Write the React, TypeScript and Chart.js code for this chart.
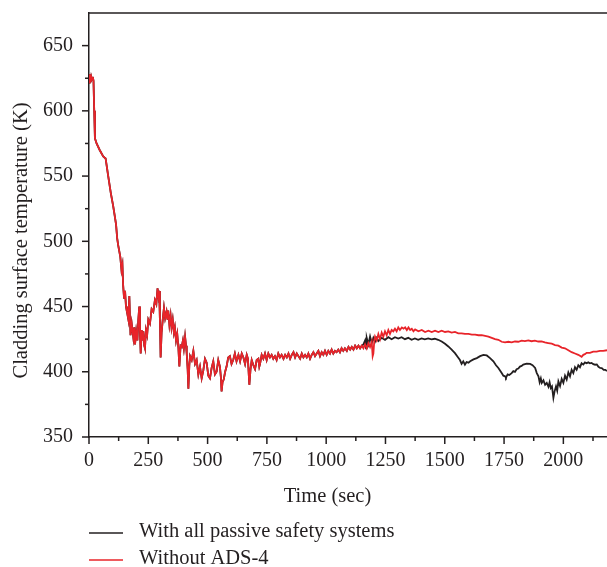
import React, { useEffect, useRef } from "react";
import { Chart, registerables } from "chart.js";

Chart.register(...registerables);

// ---------- data ----------
// Common part: both runs coincide until ~1150 s
const commonTime = [
  0, 2, 4, 6, 8, 10, 13, 16, 19, 22, 25, 32, 45, 60, 70, 81, 92, 102, 108, 114,
  119, 123, 127, 132, 137, 141, 144, 148, 152, 156, 160, 166, 170, 175, 180, 187,
  191, 194, 199, 204, 208, 212, 215, 218, 222, 226, 229, 233, 236, 240, 245, 250,
  257, 264, 271, 278, 284, 289, 293, 296, 299, 302, 306, 311, 316, 321, 327, 331,
  334, 339, 344, 348, 353, 358, 362, 367, 372, 377, 381, 386, 391, 396, 400, 405,
  409, 412, 416, 419, 423, 426, 433, 440, 447, 454, 461, 468, 475, 482, 489, 496,
  503, 510, 517, 524, 531, 538, 545, 552, 556, 559, 563, 568, 574, 580, 587, 594,
  601, 608, 615, 622, 630, 637, 644, 651, 658, 665, 670, 676, 681, 686, 693, 700,
  707, 714, 718, 721, 728, 735, 742, 749, 756, 763, 770, 777, 784, 791, 798, 805,
  812, 820, 827, 834, 841, 848, 855, 862, 869, 876, 883, 890, 897, 904, 911, 918,
  925, 932, 939, 946, 953, 960, 967, 974, 981, 988, 995, 1002, 1009, 1016, 1023,
  1030, 1037, 1044, 1051, 1058, 1065, 1072, 1079, 1087, 1094, 1101, 1108, 1115,
  1122, 1129, 1136, 1143, 1150,
];
const commonTemp = [
  624, 628, 621, 627, 622, 626, 624, 626, 623, 600, 579, 575, 570, 565, 563.5, 550, 537, 527, 520, 513,
  502, 497, 493, 488, 478, 482, 466, 456, 462, 450, 446, 440, 458, 428, 437, 426,
  434, 421, 431, 424, 440, 450, 430, 414, 432, 424, 431, 420, 418, 432, 428, 440,
  437, 448, 446, 455, 452, 464, 458, 462, 440, 411, 430, 440, 449, 441, 446, 440,
  447, 436, 443, 434, 440, 430, 434, 424, 429, 418, 404, 420, 419, 424, 418, 427,
  420, 414, 402, 387, 405, 412, 409, 416, 406, 409, 398, 404, 395, 401, 410, 407,
  397, 395, 403, 408, 398, 400, 409, 404, 396, 385, 392, 394, 400, 404, 411, 412,
  406, 409, 414, 408, 413, 408, 414, 411, 406, 413, 410, 390, 402, 409, 405, 402,
  409, 410, 404, 406, 413, 410, 414, 409, 414, 411, 413, 410, 412, 409, 414, 411,
  413, 410, 413, 411, 414, 410, 413, 415, 411, 414, 412, 410, 414, 411, 413, 411,
  414, 410, 413, 415, 412, 414, 416, 412, 415, 413, 416, 413, 416, 414, 417,
  414, 416, 415, 417, 415, 418, 416, 418, 416, 419, 417, 419, 417,
  420, 418, 420, 418, 420,
];

// "With all passive safety systems" after divergence
const passiveTime = [
  1157, 1164, 1168, 1171, 1178, 1185, 1192, 1199, 1206, 1213, 1220, 1234, 1248, 1262,
  1276, 1290, 1304, 1318, 1332, 1346, 1360, 1374, 1388, 1402, 1416, 1430, 1444, 1458,
  1472, 1487, 1501, 1515, 1529, 1543, 1554, 1564, 1571, 1578, 1585, 1592, 1600, 1607,
  1621, 1635, 1649, 1663, 1677, 1691, 1705, 1716, 1726, 1733, 1740, 1747, 1754, 1758,
  1765, 1772, 1782, 1789, 1796, 1803, 1810, 1817, 1824, 1831, 1845, 1860, 1870, 1881,
  1888, 1895, 1900, 1905, 1909, 1916, 1923, 1930, 1937, 1942, 1947, 1952, 1958, 1963,
  1969, 1974, 1979, 1986, 1993, 2000, 2007, 2014, 2021, 2028, 2035, 2042, 2049, 2056,
  2063, 2070, 2077, 2084, 2091, 2098, 2105, 2112, 2119, 2126, 2134, 2141, 2148, 2155,
  2162, 2170, 2177, 2184,
];
const passiveTemp = [
  421, 424, 418, 426, 421, 427, 422, 426, 423, 426, 423.5, 426, 424.5, 426.5,
  425, 426.5, 425.5, 426.5, 425, 426, 424.5, 425.5, 424.5, 425.5, 424.8, 425.5, 424.8, 425.3,
  424.5, 423.2, 421.5, 419.4, 417, 414.3, 411.5, 409, 406, 408, 405.5, 407.5, 407, 408,
  409.5, 410.5, 412, 413, 412.5, 410.5, 408, 405, 402.9, 401, 399, 397, 396.5, 395.5,
  398, 397.5, 399, 400.5, 400, 402, 402.5, 404, 404.5, 405.5, 406.3, 406, 405, 402.9,
  399, 396.5, 392, 395, 391.5, 393.5, 390, 391.4, 388.5, 392, 387.5, 388.8, 380, 385,
  388.8, 385.5, 392.6, 389, 394.5, 391.5, 397, 394, 399.5, 396.5, 401.5, 399, 403.5, 401.5,
  405, 403.5, 406.5, 405.5, 407.2, 406.5, 407.2, 406.5, 406.8, 405.8, 405.4, 405.6, 403.8, 402.9,
  402.8, 401.5, 401.5, 400.5,
];

// "Without ADS-4" after divergence
const noAdsTime = [
  1157, 1164, 1171, 1178, 1185, 1192, 1196, 1199, 1203, 1206, 1213, 1220, 1227, 1234,
  1241, 1248, 1255, 1262, 1269, 1276, 1283, 1290, 1297, 1304, 1311, 1319, 1326, 1333,
  1340, 1347, 1354, 1361, 1368, 1375, 1389, 1403, 1417, 1431, 1445, 1459, 1473, 1487,
  1501, 1515, 1529, 1543, 1557, 1571, 1585, 1600, 1614, 1628, 1642, 1656, 1670, 1684,
  1698, 1712, 1726, 1740, 1754, 1768, 1782, 1796, 1810, 1824, 1838, 1852, 1866, 1880,
  1894, 1908, 1922, 1936, 1951, 1965, 1979, 1993, 2007, 2021, 2035, 2049, 2063, 2077,
  2084, 2091, 2098, 2112, 2126, 2140, 2154, 2168, 2184,
];
const noAdsTemp = [
  418, 421, 418, 422, 419, 423, 412, 414, 424, 427, 424, 429, 425, 430,
  427, 431, 428, 432, 429, 432, 431, 433, 431, 434, 432, 434, 433, 434,
  432, 434, 432, 433, 431, 432.5, 431, 432, 430.5, 431.5, 430.5, 431.5, 430.5, 431.5,
  430.5, 431, 430, 430.5, 429.5, 429.5, 429, 429, 428.5, 428.5, 428, 428, 427.5, 427,
  426, 425, 424.5, 423, 422.5, 423, 422.5, 423.2, 423, 423.8, 423.5, 424, 423.4, 423.8,
  423.2, 423.3, 422.5, 422, 421.5, 420.5, 420, 418.5, 418, 416.5, 415, 414, 413, 411.5,
  413, 413.5, 414.5, 414.5, 415.5, 415.5, 416, 416, 416.5,
];

const xTickLabels = [0, 250, 500, 750, 1000, 1250, 1500, 1750, 2000];
const yTickLabels = [350, 400, 450, 500, 550, 600, 650];

const seriesNames = ["With all passive safety systems", "Without ADS-4"];
const xTitle = "Time (sec)";
const yTitle = "Cladding surface temperature (K)";

// ---------- styles ----------
const BLACK = "#231f20";
const RED = "#e8242a";
const FONT = "'Liberation Serif', 'Times New Roman', serif";

function toPoints(t: number[], v: number[]) {
  return t.map((x, i) => ({ x, y: v[i] }));
}

const decorPlugin = {
  id: "decor",
  afterDraw(chart: any) {
    const { ctx, chartArea, scales } = chart;
    const xs = scales.x;
    const ys = scales.y;
    ctx.save();
    ctx.strokeStyle = BLACK;
    ctx.lineWidth = 1.5;
    // top frame line
    ctx.beginPath();
    ctx.moveTo(chartArea.left - 0.75, chartArea.top);
    ctx.lineTo(chartArea.right, chartArea.top);
    ctx.stroke();
    // x ticks (major 250, minor 125)
    for (let v = 0; v <= xs.max; v += 125) {
      const px = xs.getPixelForValue(v);
      const len = v % 250 === 0 ? 7 : 4;
      ctx.beginPath();
      ctx.moveTo(px, chartArea.bottom);
      ctx.lineTo(px, chartArea.bottom + len);
      ctx.stroke();
    }
    // y ticks (major 50, minor 25)
    for (let v = ys.min; v < ys.max; v += 25) {
      const py = ys.getPixelForValue(v);
      const len = v % 50 === 0 ? 7 : 4;
      ctx.beginPath();
      ctx.moveTo(chartArea.left, py);
      ctx.lineTo(chartArea.left - len, py);
      ctx.stroke();
    }
    // axis titles
    ctx.fillStyle = BLACK;
    ctx.font = `20.5px ${FONT}`;
    ctx.textAlign = "center";
    ctx.textBaseline = "alphabetic";
    ctx.fillText(xTitle, 327.5, 502);
    ctx.save();
    ctx.translate(26.5, 240.5);
    ctx.rotate(-Math.PI / 2);
    ctx.fillText(yTitle, 0, 0);
    ctx.restore();
    // legend
    const colors = [BLACK, RED];
    const rows = [533, 560];
    ctx.textAlign = "left";
    seriesNames.forEach((name, i) => {
      ctx.strokeStyle = colors[i];
      ctx.lineWidth = 1.5;
      ctx.beginPath();
      ctx.moveTo(89, rows[i]);
      ctx.lineTo(123, rows[i]);
      ctx.stroke();
      ctx.fillStyle = BLACK;
      ctx.fillText(name, 139, rows[i] + 4);
    });
    ctx.restore();
  },
};

export default function App() {
  const canvasRef = useRef<HTMLCanvasElement | null>(null);

  useEffect(() => {
    const canvas = canvasRef.current;
    if (!canvas) return;
    const chart = new Chart(canvas, {
      type: "line",
      data: {
        datasets: [
          {
            label: seriesNames[1],
            data: toPoints(commonTime.concat(noAdsTime), commonTemp.concat(noAdsTemp)),
            borderColor: RED,
            backgroundColor: RED,
            borderWidth: 1.8,
            pointRadius: 0,
            tension: 0,
            fill: false,
          },
          {
            label: seriesNames[0],
            data: toPoints(commonTime.concat(passiveTime), commonTemp.concat(passiveTemp)),
            borderColor: BLACK,
            backgroundColor: BLACK,
            borderWidth: 1.8,
            pointRadius: 0,
            tension: 0,
            fill: false,
          },
        ],
      },
      options: {
        responsive: false,
        animation: false,
        devicePixelRatio: 1,
        layout: { padding: { top: 13, right: 0, bottom: 0, left: 0 } },
        plugins: {
          legend: { display: false },
          tooltip: { enabled: false },
          title: { display: false },
        },
        scales: {
          x: {
            type: "linear",
            min: 0,
            max: 2184,
            afterFit: (s: any) => {
              s.height = 130;
              s.paddingLeft = 0;
              s.paddingRight = 0;
              s.paddingTop = 0;
              s.paddingBottom = 0;
            },
            afterBuildTicks: (s: any) => {
              s.ticks = xTickLabels.map((v) => ({ value: v }));
            },
            ticks: {
              includeBounds: false,
              padding: 12,
              color: BLACK,
              font: { family: FONT, size: 20 },
              maxRotation: 0,
              autoSkip: false,
              callback: (v: any) => String(v),
            },
            grid: { drawOnChartArea: false, drawTicks: false },
            border: { display: true, color: BLACK, width: 1.5 },
          },
          y: {
            type: "linear",
            min: 350,
            max: 675,
            afterFit: (s: any) => {
              s.width = 89;
              s.paddingLeft = 0;
              s.paddingRight = 0;
              s.paddingTop = 0;
              s.paddingBottom = 0;
            },
            afterBuildTicks: (s: any) => {
              s.ticks = yTickLabels.map((v) => ({ value: v }));
            },
            ticks: {
              includeBounds: false,
              padding: 16,
              color: BLACK,
              font: { family: FONT, size: 20 },
              autoSkip: false,
              callback: (v: any) => String(v),
            },
            grid: { drawOnChartArea: false, drawTicks: false },
            border: { display: true, color: BLACK, width: 1.5 },
          },
        },
      },
      plugins: [decorPlugin],
    });
    return () => chart.destroy();
  }, []);

  return (
    <div
      style={{
        position: "fixed",
        left: 0,
        top: 0,
        width: 607,
        height: 567,
        background: "#fff",
        overflow: "hidden",
      }}
    >
      <canvas ref={canvasRef} width={607} height={567} style={{ display: "block" }} />
    </div>
  );
}
